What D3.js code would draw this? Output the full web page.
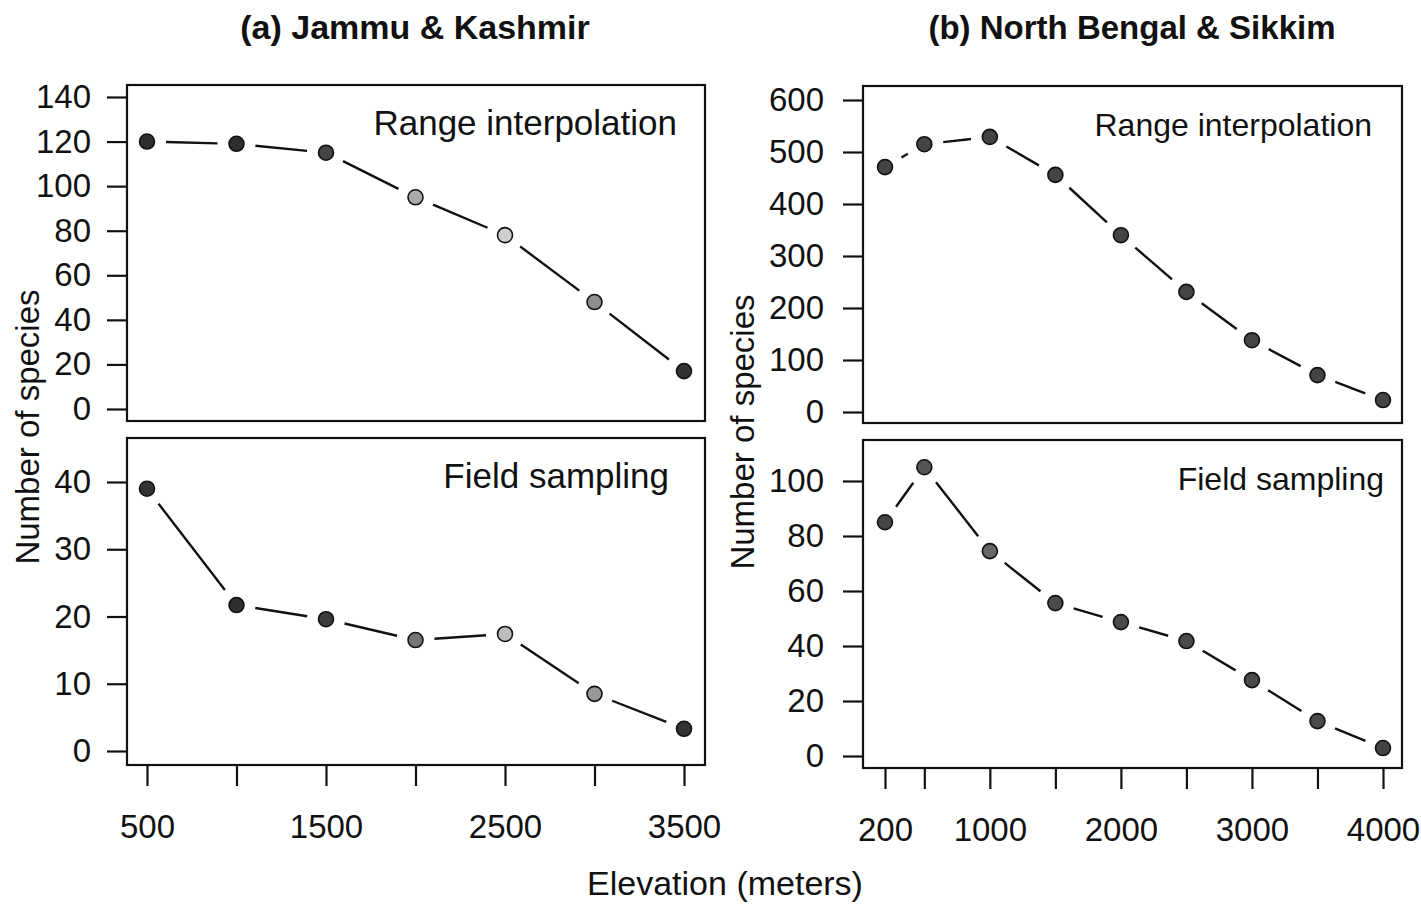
<!DOCTYPE html>
<html>
<head>
<meta charset="utf-8">
<script src="https://d3js.org/d3.v7.min.js"></script>
<style>
body { margin: 0; background: #fff; }
text { font-family: "Liberation Sans", Arial, Helvetica, sans-serif; fill: #111; }
</style>
</head>
<body>
<script>
// elevations (m) and species counts
var jkElev = [500, 1000, 1500, 2000, 2500, 3000, 3500];
var jkRange = [120, 119, 115, 95, 78, 48, 17];
var jkField = [39, 21.7, 19.6, 16.5, 17.4, 8.5, 3.3];

var nbElev = [200, 500, 1000, 1500, 2000, 2500, 3000, 3500, 4000];
var nbRange = [471, 515, 529, 456, 340, 231, 138, 71, 23];
var nbField = [85, 105, 74.5, 55.6, 48.7, 41.8, 27.6, 12.7, 2.9];

// tick values / labels
var jkXTicks = [500, 1000, 1500, 2000, 2500, 3000, 3500];
var jkXLabels = [500, 1500, 2500, 3500];
var nbXTicks = [200, 500, 1000, 1500, 2000, 2500, 3000, 3500, 4000];
var nbXLabels = [200, 1000, 2000, 3000, 4000];
var jkRangeTicks = [0, 20, 40, 60, 80, 100, 120, 140];
var jkFieldTicks = [0, 10, 20, 30, 40];
var nbRangeTicks = [0, 100, 200, 300, 400, 500, 600];
var nbFieldTicks = [0, 20, 40, 60, 80, 100];

// grey shades of the dots
var jkRangeFill = ["#2e2e2e", "#2e2e2e", "#444", "#aaa", "#cfcfcf", "#8e8e8e", "#333"];
var jkFieldFill = ["#333", "#2e2e2e", "#3a3a3a", "#777", "#bdbdbd", "#999", "#333"];
var nbRangeFill = ["#444", "#444", "#444", "#444", "#444", "#444", "#444", "#444", "#444"];
var nbFieldFill = ["#444", "#555", "#666", "#4a4a4a", "#4a4a4a", "#4a4a4a", "#4a4a4a", "#4a4a4a", "#444"];

var W = 1421, H = 904;
var svg = d3.select("body").append("svg")
    .attr("width", W)
    .attr("height", H);

var GAP = 19;   // R type="b" gap around points

function panel(o) {
  var x = d3.scaleLinear().domain(o.xdom).range(o.xrange);
  var y = d3.scaleLinear().domain(o.ydom).range(o.yrange);
  var g = svg.append("g");

  // frame
  g.append("rect")
    .attr("x", o.box[0]).attr("y", o.box[1])
    .attr("width", o.box[2] - o.box[0]).attr("height", o.box[3] - o.box[1])
    .attr("fill", "none").attr("stroke", "#111").attr("stroke-width", 2.2);

  // y axis
  var ya = g.append("g")
    .attr("transform", "translate(" + o.box[0] + ",0)")
    .call(d3.axisLeft(y).tickValues(o.yticks).tickSize(20).tickPadding(o.ypad));
  ya.select(".domain").remove();
  ya.selectAll("line").attr("stroke", "#111").attr("stroke-width", 2.2);
  ya.selectAll("text").style("font-size", "33px").attr("fill", "#111")
    .attr("font-family", "Liberation Sans, Arial, sans-serif");

  // x axis (only bottom panels)
  if (o.xticks) {
    var xa = g.append("g")
      .attr("transform", "translate(0," + o.box[3] + ")")
      .call(d3.axisBottom(x).tickValues(o.xticks).tickSize(21).tickPadding(29)
        .tickFormat(function(d) { return o.xlabels.indexOf(d) >= 0 ? d : ""; }));
    xa.select(".domain").remove();
    xa.selectAll("line").attr("stroke", "#111").attr("stroke-width", 2.2);
    xa.selectAll("text").style("font-size", "33px").attr("fill", "#111")
      .attr("font-family", "Liberation Sans, Arial, sans-serif");
  }

  // connecting segments with gaps around points
  var pts = o.xs.map(function(d, i) { return [x(d), y(o.ys[i])]; });
  for (var i = 0; i < pts.length - 1; i++) {
    var a = pts[i], b = pts[i + 1];
    var dx = b[0] - a[0], dy = b[1] - a[1];
    var len = Math.sqrt(dx * dx + dy * dy);
    if (len <= 2 * GAP) continue;
    var ux = dx / len, uy = dy / len;
    g.append("line")
      .attr("x1", a[0] + ux * GAP).attr("y1", a[1] + uy * GAP)
      .attr("x2", b[0] - ux * GAP).attr("y2", b[1] - uy * GAP)
      .attr("stroke", "#111").attr("stroke-width", 2.4);
  }

  g.selectAll("circle")
    .data(o.xs)
    .enter().append("circle")
    .attr("cx", function(d) { return x(d); })
    .attr("cy", function(d, i) { return y(o.ys[i]); })
    .attr("r", 7.5)
    .attr("fill", function(d, i) { return o.fill[i]; })
    .attr("stroke", "#111")
    .attr("stroke-width", 1.6);

  g.append("text")
    .attr("x", o.box[2] - o.pad)
    .attr("y", o.box[1] + 50)
    .attr("text-anchor", "end")
    .style("font-size", o.fs + "px")
    .text(o.label);
}

panel({ xdom: [500, 3500], xrange: [147, 684], ydom: [0, 140], yrange: [409, 97],
        box: [127, 85, 705, 421], yticks: jkRangeTicks, pad: 28, fs: 35, ypad: 16,
        xs: jkElev, ys: jkRange, fill: jkRangeFill, label: "Range interpolation" });
panel({ xdom: [500, 3500], xrange: [147, 684], ydom: [0, 40], yrange: [751, 482],
        box: [127, 438, 705, 765], yticks: jkFieldTicks, xticks: jkXTicks, xlabels: jkXLabels,
        pad: 36, fs: 35, ypad: 16,
        xs: jkElev, ys: jkField, fill: jkFieldFill, label: "Field sampling" });
panel({ xdom: [200, 4000], xrange: [885, 1383], ydom: [0, 600], yrange: [412, 100],
        box: [863, 86, 1402, 423], yticks: nbRangeTicks, pad: 30, fs: 32, ypad: 19,
        xs: nbElev, ys: nbRange, fill: nbRangeFill, label: "Range interpolation" });
panel({ xdom: [200, 4000], xrange: [885, 1383], ydom: [0, 100], yrange: [756, 481],
        box: [863, 440, 1402, 768], yticks: nbFieldTicks, xticks: nbXTicks, xlabels: nbXLabels,
        pad: 18, fs: 32, ypad: 19,
        xs: nbElev, ys: nbField, fill: nbFieldFill, label: "Field sampling" });

// titles
svg.append("text").attr("x", 415).attr("y", 39).attr("text-anchor", "middle")
  .style("font-size", "34px").style("font-weight", "bold").text("(a) Jammu & Kashmir");
svg.append("text").attr("x", 1132).attr("y", 39).attr("text-anchor", "middle")
  .style("font-size", "33px").style("font-weight", "bold").text("(b) North Bengal & Sikkim");

// axis labels
svg.append("text").attr("transform", "translate(39,427) rotate(-90)").attr("text-anchor", "middle")
  .style("font-size", "33px").text("Number of species");
svg.append("text").attr("transform", "translate(754,432) rotate(-90)").attr("text-anchor", "middle")
  .style("font-size", "33px").text("Number of species");
svg.append("text").attr("x", 725).attr("y", 895).attr("text-anchor", "middle")
  .style("font-size", "34px").text("Elevation (meters)");
</script>
</body>
</html>
